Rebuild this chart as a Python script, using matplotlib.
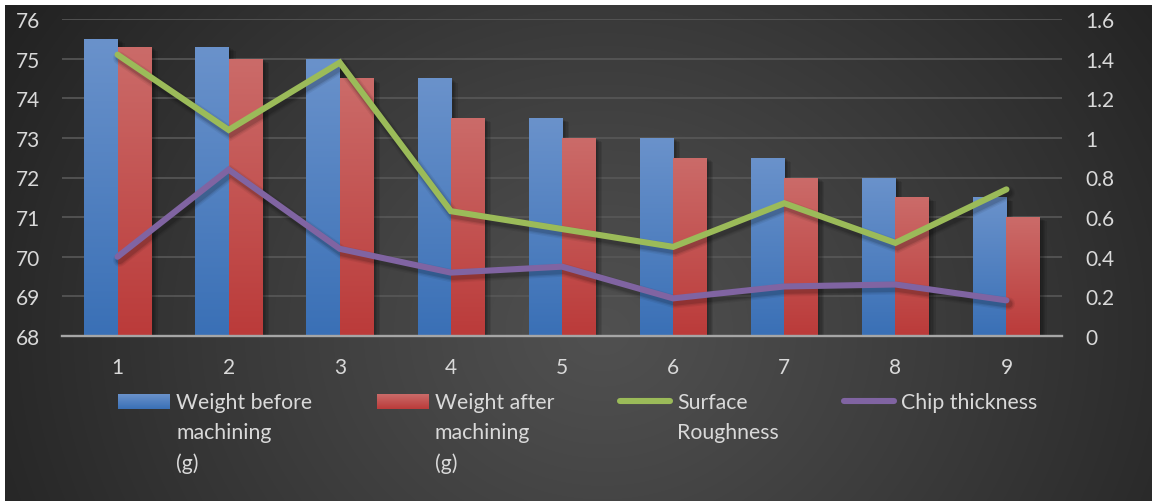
import numpy as np
import matplotlib
matplotlib.use("Agg")
import matplotlib.pyplot as plt
from matplotlib.patches import Rectangle
import matplotlib.patheffects as pe

plt.rcParams['font.family'] = ['Lato', 'DejaVu Sans']

# ---- data -------------------------------------------------------------
samples = [1, 2, 3, 4, 5, 6, 7, 8, 9]
weight_before = [75.5, 75.3, 75.0, 74.5, 73.5, 73.0, 72.5, 72.0, 71.5]
weight_after = [75.3, 75.0, 74.5, 73.5, 73.0, 72.5, 72.0, 71.5, 71.0]
surface_roughness = [1.42, 1.04, 1.38, 0.63, 0.54, 0.45, 0.67, 0.47, 0.74]
chip_thickness = [0.40, 0.84, 0.44, 0.32, 0.35, 0.19, 0.25, 0.26, 0.18]
left_ticks = [68, 69, 70, 71, 72, 73, 74, 75, 76]
right_ticks = [0, 0.2, 0.4, 0.6, 0.8, 1.0, 1.2, 1.4, 1.6]
right_tick_labels = ["0", "0.2", "0.4", "0.6", "0.8", "1", "1.2", "1.4", "1.6"]

# ---- styling ------------------------------------------------------------
W, H = 1152, 502
TEXT = '#d9d9d9'
BLUE_TOP, BLUE_BOT = '#6a92cb', '#3a70b6'
RED_TOP, RED_BOT = '#cb6b69', '#bb3b3a'
GREEN, PURPLE = '#9bbb59', '#8064a2'
LW = 4.4


def vgrad(top, bottom, n=64):
    c0 = np.array(matplotlib.colors.to_rgb(top))
    c1 = np.array(matplotlib.colors.to_rgb(bottom))
    t = np.linspace(0, 1, n)[:, None]
    return (c0 * (1 - t) + c1 * t)[:, None, :]


fig = plt.figure(figsize=(W / 100, H / 100), dpi=100)
fig.patch.set_facecolor('white')

# dark radial backdrop, drawn in pixel coordinates
bg = fig.add_axes([0, 0, 1, 1], zorder=-10)
bg.set_xlim(0, W)
bg.set_ylim(H, 0)
bg.axis('off')
yy, xx = np.mgrid[0:H, 0:W]
r = np.sqrt(((xx - 600) / 640) ** 2 + ((yy - 330) / 560) ** 2)
shade = 0.315 - 0.165 * np.clip(r, 0, 1.1) ** 1.1
bg.imshow(np.dstack([shade] * 3), extent=(5, W, H, 6), aspect='auto',
          interpolation='bilinear', zorder=0)

# ---- main axes ---------------------------------------------------------
ax = fig.add_axes([62 / W, 1 - 337 / H, 1000 / W, 317 / H])
ax.set_facecolor('none')
ax2 = ax.twinx()

x = np.array(samples, dtype=float)
bw = 0.3
# soft drop shadow built from a few faint offset copies
bar_fx = [pe.SimplePatchShadow(offset=(d, -d * 0.6), shadow_rgbFace='black', alpha=0.09)
          for d in (1, 2, 3, 4, 5)] + [pe.Normal()]
for xs, vals, top, bot in [(x - bw / 2, weight_before, BLUE_TOP, BLUE_BOT),
                           (x + bw / 2, weight_after, RED_TOP, RED_BOT)]:
    bars = ax.bar(xs, np.array(vals) - 68, bottom=68, width=bw, color=bot,
                  zorder=2)
    for b in bars:
        b.set_path_effects(bar_fx)
        x0, y0 = b.get_x(), b.get_y()
        im = ax.imshow(vgrad(top, bot), extent=(x0, x0 + b.get_width(), y0, y0 + b.get_height()),
                       aspect='auto', interpolation='bilinear', zorder=3)
        im.set_clip_path(b)

ax.set_xlim(0.5, 9.5)
ax.set_ylim(68, 76)
ax.set_yticks(left_ticks)
ax.set_xticks(samples)
ax.set_xticklabels([str(s) for s in samples])
ax.grid(axis='y', color='#585858', lw=1.2, zorder=0)
ax.set_axisbelow(True)
for s in ['top', 'left', 'right']:
    ax.spines[s].set_visible(False)
ax.spines['bottom'].set_color('#a6a6a6')
ax.spines['bottom'].set_linewidth(1.7)
ax.spines['bottom'].set_zorder(4)
ax.tick_params(axis='y', length=0, pad=16, labelsize=15, labelcolor=TEXT)
ax.tick_params(axis='x', length=0, pad=15, labelsize=15, labelcolor=TEXT)

line_fx = [pe.SimpleLineShadow(offset=(1.5, -2.5), shadow_color='black', alpha=a,
                               linewidth=LW + w)
           for a, w in ((0.06, 5), (0.08, 3), (0.12, 1.2))] + [pe.Normal()]
ax2.plot(x, surface_roughness, color=GREEN, lw=LW, solid_capstyle='round',
         solid_joinstyle='miter', path_effects=line_fx)
ax2.plot(x, chip_thickness, color=PURPLE, lw=LW, solid_capstyle='round',
         solid_joinstyle='miter', path_effects=line_fx)
ax2.set_ylim(0, 1.6)
ax2.set_yticks(right_ticks)
ax2.set_yticklabels(right_tick_labels)
for s in ax2.spines.values():
    s.set_visible(False)
ax2.tick_params(axis='y', length=0, pad=17, labelsize=15, labelcolor=TEXT)

# ---- legend (pixel coordinates on the backdrop) -------------------------
def legend_text(x0, lines):
    for i, t in enumerate(lines):
        bg.text(x0, 409 + 30.5 * i, t, color=TEXT, fontsize=15.3, va='baseline',
                ha='left', zorder=4)


def legend_patch(x0, top, bot, label_lines):
    rect = Rectangle((x0, 395), 52, 15, facecolor=bot, edgecolor='none', zorder=2)
    bg.add_patch(rect)
    im = bg.imshow(vgrad(top, bot), extent=(x0, x0 + 52, 410, 395), aspect='auto',
                   interpolation='bilinear', zorder=3)
    im.set_clip_path(rect)
    legend_text(x0 + 58, label_lines)


def legend_line(x0, color, label_lines):
    bg.plot([x0 + 3, x0 + 53], [402, 402], color=color, lw=LW,
            solid_capstyle='round', zorder=3)
    legend_text(x0 + 60, label_lines)


legend_patch(118, BLUE_TOP, BLUE_BOT, ["Weight before", "machining", "(g)"])
legend_patch(377, RED_TOP, RED_BOT, ["Weight after", "machining", "(g)"])
legend_line(617, GREEN, ["Surface", "Roughness"])
legend_line(841, PURPLE, ["Chip thickness"])
bg.set_xlim(0, W)
bg.set_ylim(H, 0)

fig.savefig('out.png', dpi=100, facecolor=fig.get_facecolor())
